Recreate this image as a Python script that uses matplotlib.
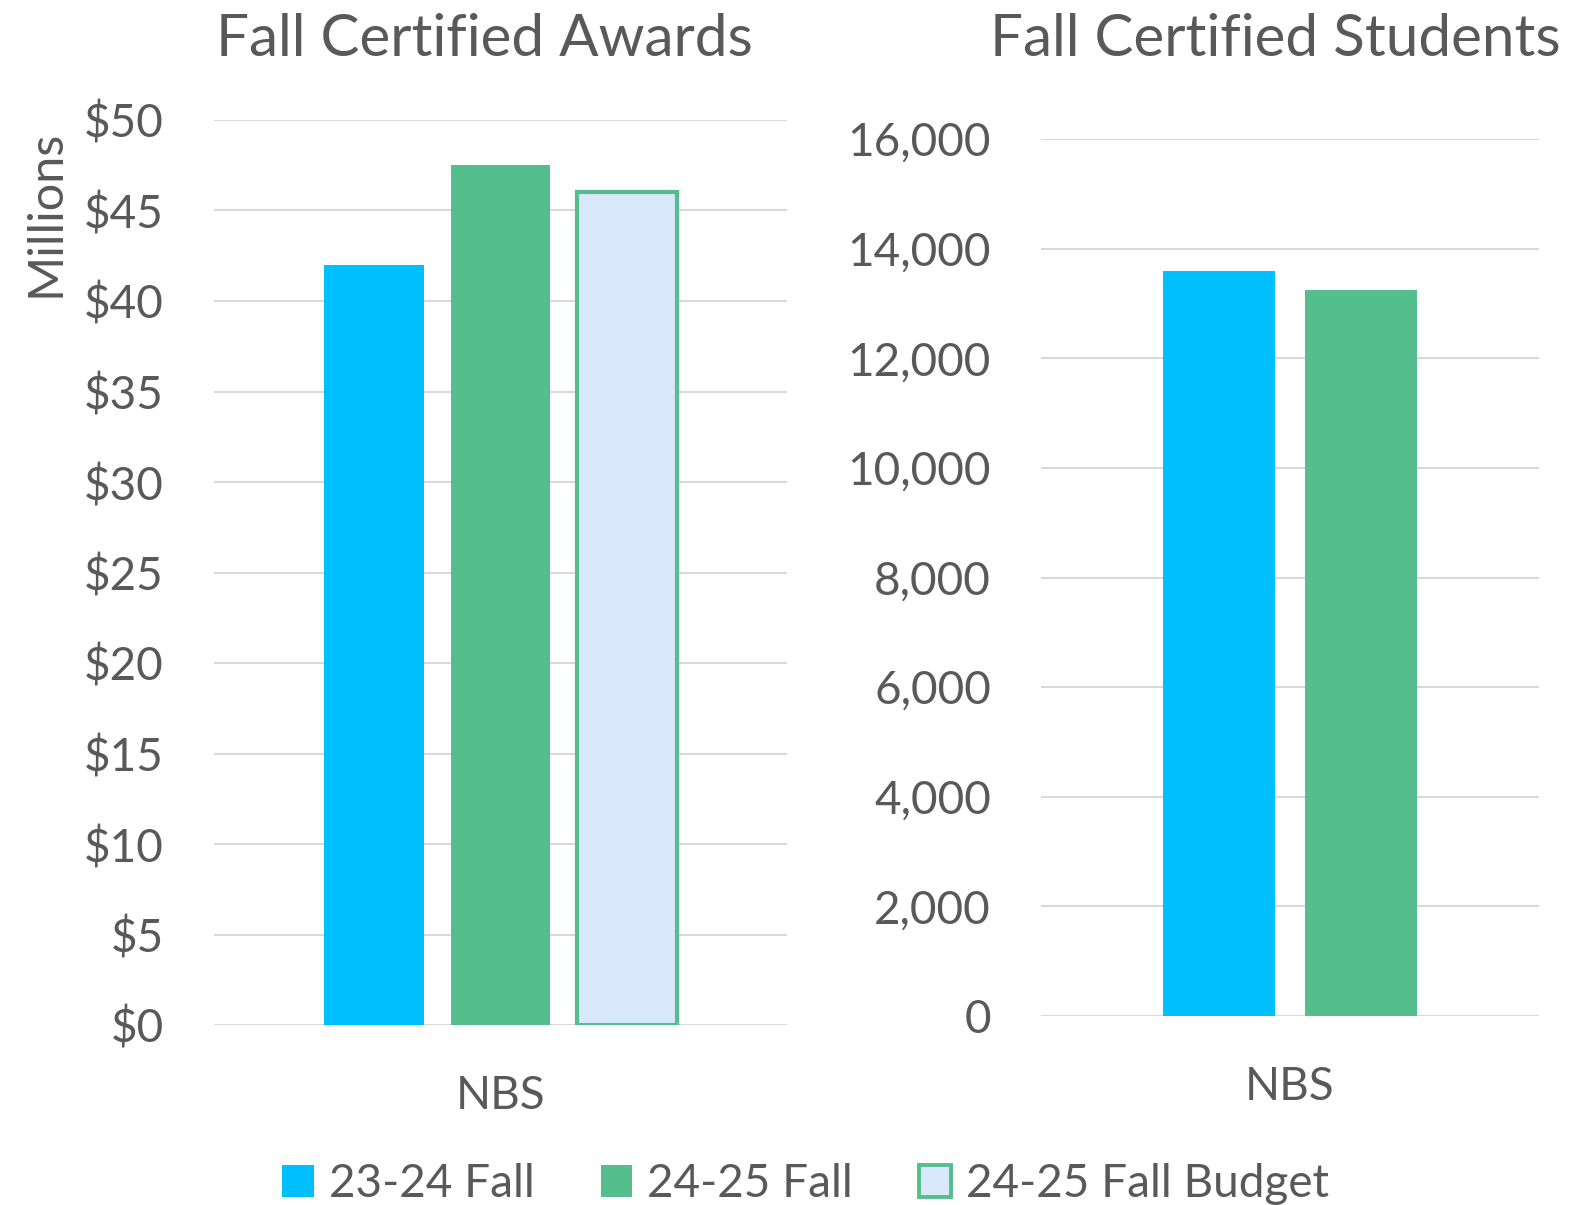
import matplotlib
matplotlib.use("Agg")
import matplotlib.pyplot as plt
from matplotlib.ticker import FuncFormatter, MultipleLocator
from matplotlib.patches import Patch

plt.rcParams['font.family'] = ['Lato', 'DejaVu Sans']

# ---- data ----
categories = ["NBS"]
series_names = ["23-24 Fall", "24-25 Fall", "24-25 Fall Budget"]
awards_millions = [42.0, 47.5, 46.0]          # Fall Certified Awards ($ millions)
students_names = ["23-24 Fall", "24-25 Fall"]
students_values = [13600, 13250]              # Fall Certified Students

colors = {"23-24 Fall": "#00BFFF", "24-25 Fall": "#55BE8D", "24-25 Fall Budget": "#DAE8FC"}
edge_green = "#55BE8D"
text_color = "#595959"
grid_color = "#D9D9D9"
FS = 33

fig = plt.figure(figsize=(15.89, 12.05), dpi=100)
W, H = 1589, 1205

# ---- left axes ----
ax1 = fig.add_axes([214 / W, 1 - 1025 / H, 573 / W, 905 / H])
offs1 = [-0.22, 0.0, 0.22]
bw1 = 0.1745
for name, val, off in zip(series_names, awards_millions, offs1):
    if name == "24-25 Fall Budget":
        ax1.bar(off, val, width=bw1, color=colors[name], edgecolor=edge_green,
                linewidth=3.0, zorder=3)
    else:
        ax1.bar(off, val, width=bw1, color=colors[name], linewidth=0, zorder=3)
ax1.set_xlim(-0.5, 0.5)
ax1.set_ylim(0, 50)
ax1.yaxis.set_major_locator(MultipleLocator(5))
ax1.yaxis.set_major_formatter(FuncFormatter(lambda v, p: f"${v:.0f}"))
ax1.set_xticks([0])
ax1.set_xticklabels(categories)

# ---- right axes ----
ax2 = fig.add_axes([1041 / W, 1 - 1016 / H, 498 / W, 877 / H])
offs2 = [-0.1426, 0.1426]
bw2 = 0.225
for name, val, off in zip(students_names, students_values, offs2):
    ax2.bar(off, val, width=bw2, color=colors[name], linewidth=0, zorder=3)
ax2.set_xlim(-0.5, 0.5)
ax2.set_ylim(0, 16000)
ax2.yaxis.set_major_locator(MultipleLocator(2000))
ax2.yaxis.set_major_formatter(FuncFormatter(lambda v, p: f"{v:,.0f}"))
ax2.set_xticks([0])
ax2.set_xticklabels(categories)

for ax in (ax1, ax2):
    for s in ax.spines.values():
        s.set_visible(False)
    ax.grid(axis='y', color=grid_color, linewidth=1.5, zorder=0)
    ax.set_axisbelow(True)
    ax.tick_params(axis='y', length=0, pad=36, labelsize=FS, labelcolor=text_color)
    ax.tick_params(axis='x', length=0, pad=36, labelsize=FS, labelcolor=text_color)

# titles
fig.text(484 / W, 1 - 56 / H, "Fall Certified Awards", ha='center', va='baseline',
         fontsize=42, color=text_color)
fig.text(1275 / W, 1 - 56 / H, "Fall Certified Students", ha='center', va='baseline',
         fontsize=42, color=text_color)

# y label
fig.text(46 / W, 1 - 213 / H, "Millions", rotation=90, ha='center', va='center',
         fontsize=35, color=text_color)

# legend
handles = [
    Patch(facecolor=colors["23-24 Fall"], edgecolor='none'),
    Patch(facecolor=colors["24-25 Fall"], edgecolor='none'),
    Patch(facecolor=colors["24-25 Fall Budget"], edgecolor=edge_green, linewidth=2.8),
]
leg = fig.legend(handles, series_names, loc='center', bbox_to_anchor=(0.507, 0.0174),
                 ncol=3, frameon=False, fontsize=FS, handlelength=0.68, handleheight=0.68,
                 handletextpad=0.33, columnspacing=1.45, borderpad=0, borderaxespad=0)
for t in leg.get_texts():
    t.set_color(text_color)

fig.savefig("out.png", dpi=100)
